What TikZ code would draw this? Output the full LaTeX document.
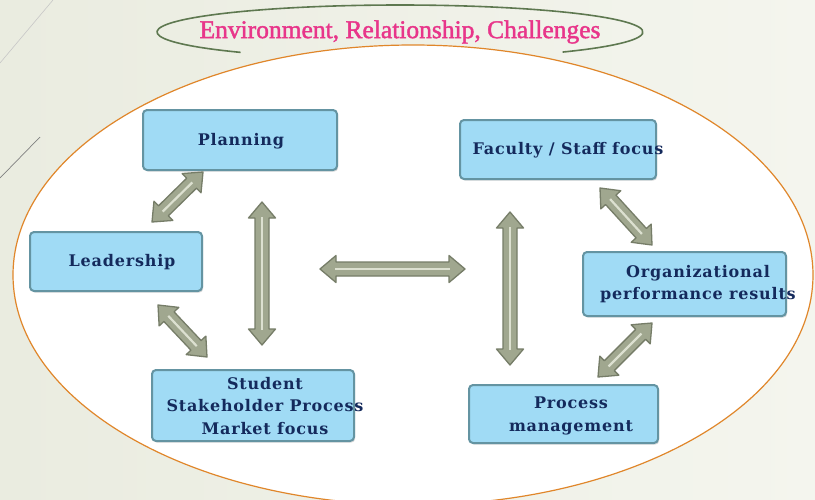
\documentclass[tikz,border=0pt]{standalone}
\usepackage{fontspec}
\usetikzlibrary{calc,shadows}
\newfontfamily\titlefont[FakeBold=1.6]{Liberation Serif}
\newfontfamily\boxfont[LetterSpace=5]{DejaVu Serif}
\definecolor{bgA}{HTML}{EAECE0}
\definecolor{bgB}{HTML}{F4F5EE}
\definecolor{ringorange}{HTML}{E0862A}
\definecolor{ringgreen}{HTML}{5E7850}
\definecolor{titlepink}{HTML}{E8358A}
\definecolor{boxfill}{HTML}{A0DBF5}
\definecolor{boxedge}{HTML}{6494A2}
\definecolor{boxtext}{HTML}{142A5C}
\definecolor{arrowfill}{HTML}{A0A78F}
\definecolor{arrowedge}{HTML}{767D68}
\definecolor{arrowshine}{HTML}{DCE0D0}
\tikzset{
  box/.style={draw=boxedge, fill=boxfill, line width=2pt, rounded corners=4pt,
    inner sep=0pt, drop shadow={shadow xshift=1.2pt, shadow yshift=-1.6pt, opacity=0.3}},
  boxlabel/.style={text=boxtext, font=\boxfont\bfseries\fontsize{16}{22.5}\selectfont,
    align=center, inner sep=0pt},
  blockarrow/.style={draw=arrowedge, fill=arrowfill, line width=1.3pt, line join=round,
    to path={
      -- ($(\tikztostart)!16pt!(\tikztotarget)!13.5pt!90:(\tikztotarget)$)
      -- ($(\tikztostart)!16pt!(\tikztotarget)!7pt!90:(\tikztotarget)$)
      -- ($(\tikztotarget)!16pt!(\tikztostart)!7pt!-90:(\tikztostart)$)
      -- ($(\tikztotarget)!16pt!(\tikztostart)!13.5pt!-90:(\tikztostart)$)
      -- (\tikztotarget)
      -- ($(\tikztotarget)!16pt!(\tikztostart)!13.5pt!90:(\tikztostart)$)
      -- ($(\tikztotarget)!16pt!(\tikztostart)!7pt!90:(\tikztostart)$)
      -- ($(\tikztostart)!16pt!(\tikztotarget)!7pt!-90:(\tikztotarget)$)
      -- ($(\tikztostart)!16pt!(\tikztotarget)!13.5pt!-90:(\tikztotarget)$)
      -- cycle}},
  arrowstripe/.style={draw=arrowshine, line width=2.2pt, shorten <=15pt, shorten >=15pt}
}
\begin{document}
\begin{tikzpicture}[x=1pt,y=-1pt]
\useasboundingbox (0,0) rectangle (815,499);
% background
\fill[left color=bgA, right color=bgB] (0,0) rectangle (815,499);
\draw[draw=black!22, line width=0.6pt] (0,63) -- (53,0);
\draw[draw=black!50, line width=0.7pt] (0,178) -- (40,137);
% title ring
\draw[ringgreen, line width=1.6pt] ([shift={(131:243 and 27)}]400,32)
  arc[start angle=131, end angle=408, x radius=243, y radius=27];
% big ring
\draw[ringorange, line width=1.2pt, fill=white] (413,275) ellipse [x radius=400, y radius=230];
\node[font=\titlefont\fontsize{25.5}{30}\selectfont, text=titlepink, inner sep=0pt] (title) at (400,32)
  {Environment, Relationship, Challenges};
% boxes
\node[box, minimum width=194pt, minimum height=60pt] (planning) at (240,140) {};
\node[box, minimum width=172pt, minimum height=59pt] (leader) at (116,261.5) {};
\node[box, minimum width=202pt, minimum height=71pt] (student) at (253,405.5) {};
\node[box, minimum width=196pt, minimum height=59pt] (faculty) at (558,149.5) {};
\node[box, minimum width=203pt, minimum height=64pt] (org) at (684.5,284) {};
\node[box, minimum width=189pt, minimum height=58pt] (process) at (563.5,414) {};
% labels
\node[boxlabel] (tplanning) at (241,141) {Planning};
\node[boxlabel] (tleader) at (122,262) {Leadership};
\node[boxlabel] (tstudent) at (265,406) {Student\\Stakeholder Process\\Market focus};
\node[boxlabel] (tfaculty) at (568,150) {Faculty / Staff focus};
\node[boxlabel] (torg) at (698,284) {Organizational\\performance results};
\node[boxlabel] (tprocess) at (571,416) {Process\\management};
% arrow end points
\coordinate (a1) at (203,172); \coordinate (b1) at (152,222);
\coordinate (a2) at (262,202); \coordinate (b2) at (262,345);
\coordinate (a3) at (158,305); \coordinate (b3) at (207,357);
\coordinate (a4) at (320,269); \coordinate (b4) at (465,269);
\coordinate (a5) at (510,212); \coordinate (b5) at (510,365);
\coordinate (a6) at (600,188); \coordinate (b6) at (652,245);
\coordinate (a7) at (652,323); \coordinate (b7) at (598,377);
\foreach \i in {1,...,7}{
  \draw[blockarrow] (a\i) to (b\i);
  \draw[arrowstripe] (a\i) -- (b\i);
}
\end{tikzpicture}
\end{document}
